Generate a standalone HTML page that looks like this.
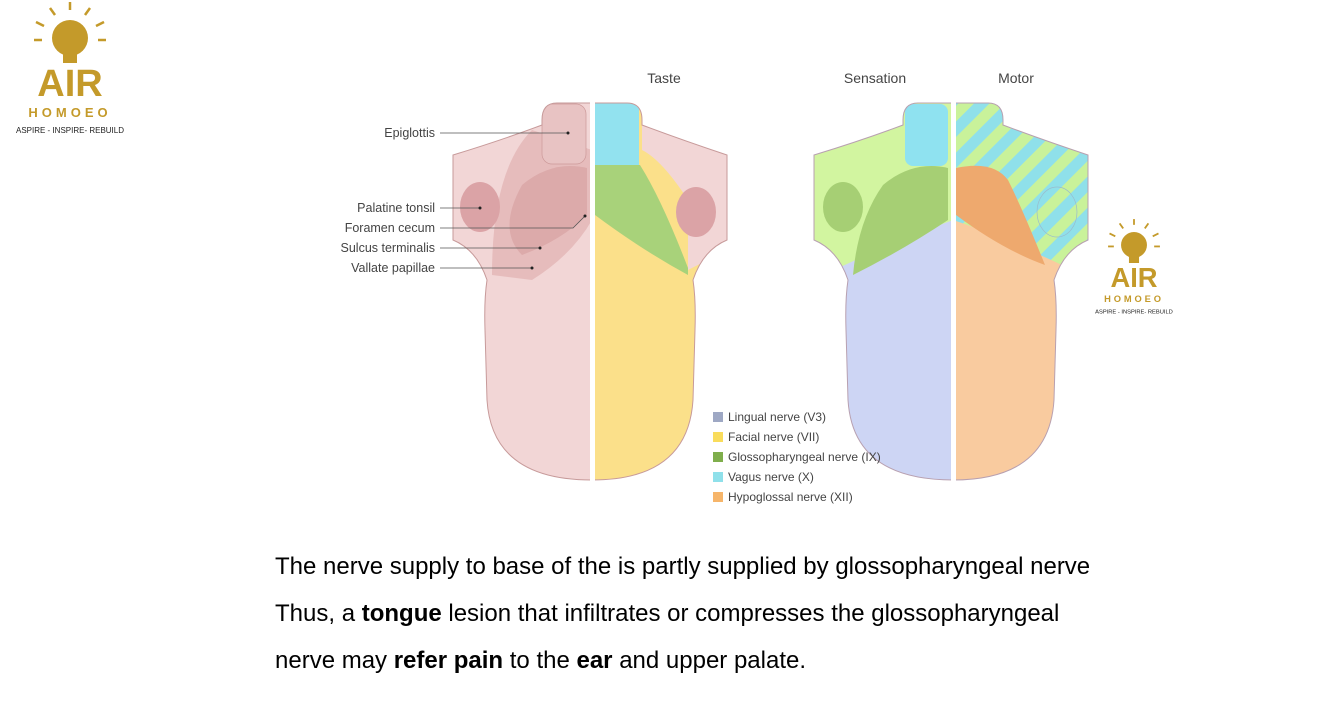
<!DOCTYPE html>
<html><head><meta charset="utf-8"><style>
body{margin:0;width:1325px;height:724px;background:#fff;overflow:hidden;font-family:"Liberation Sans",sans-serif;position:relative}
.t{position:absolute;left:275px;font-size:24px;color:#000;white-space:nowrap}
</style></head><body>
<svg width="1325" height="724" style="position:absolute;left:0;top:0">
<defs>
<path id="tg" d="M -35 103 L 35 103 Q 50 103 50 120 L 50 125 Q 90 140 135 155 L 135 240 Q 111 250 101 280 Q 104 300 103 330 L 101 400 Q 96 480 0 480 Q -100 480 -105 400 L -107 330 Q -108 300 -105 280 Q -115 250 -139 240 L -139 155 Q -90 140 -50 125 L -50 120 Q -50 103 -35 103 Z"/>
<clipPath id="cl"><use href="#tg"/></clipPath>
<pattern id="st" width="22" height="22" patternUnits="userSpaceOnUse" patternTransform="rotate(45)">
<rect width="22" height="22" fill="#c9f29a"/><rect width="11" height="22" fill="#8fe0ea"/></pattern>
<g id="logo">
<g stroke="#c49a2a" stroke-width="2.5">
<line x1="0" y1="-36" x2="0" y2="-28"/><line x1="-20" y1="-30" x2="-15" y2="-23"/><line x1="20" y1="-30" x2="15" y2="-23"/>
<line x1="-34" y1="-16" x2="-26" y2="-12"/><line x1="34" y1="-16" x2="26" y2="-12"/><line x1="-36" y1="2" x2="-28" y2="2"/><line x1="36" y1="2" x2="28" y2="2"/>
</g>
<circle cx="0" cy="0" r="18" fill="#c49a2a"/><rect x="-7" y="15" width="14" height="10" fill="#c49a2a"/>
<text x="0" y="58" text-anchor="middle" font-size="38" font-weight="bold" fill="#c49a2a">AIR</text>
<text x="0" y="79" text-anchor="middle" font-size="13" font-weight="bold" fill="#c49a2a" letter-spacing="4">HOMOEO</text>
<text x="0" y="95" text-anchor="middle" font-size="8" fill="#222">ASPIRE - INSPIRE- REBUILD</text>
</g>
</defs>
<use href="#logo" transform="translate(70,38)"/>
<use href="#logo" transform="translate(1134,245) scale(0.72)"/>

<!-- tongue 1 -->
<g transform="translate(592,0)">
<g clip-path="url(#cl)">
<rect x="-150" y="100" width="150" height="390" fill="#f2d6d6"/>
<path d="M -60 130 Q -100 170 -100 275 L -60 280 Q -20 255 0 220 L 0 150 Z" fill="#e6bcbc"/>
<path d="M -70 185 Q -40 160 -5 168 L -5 215 Q -30 240 -70 255 Q -95 230 -70 185 Z" fill="#dcaaaa"/>
<rect x="-50" y="104" width="44" height="60" rx="10" fill="#e8c3c3" stroke="#c99" stroke-width="0.7"/>
<ellipse cx="-112" cy="207" rx="20" ry="25" fill="#dba3a6"/>
<rect x="0" y="100" width="150" height="390" fill="#fbe08a"/>
<path d="M 3 165 L 48 165 Q 70 200 96 268 L 96 275 Q 50 250 3 215 Z" fill="#a8d27a"/>
<rect x="3" y="103" width="44" height="62" fill="#92e2ef"/>
<path d="M 96 200 L 135 200 L 135 250 L 96 270 Z" fill="#f2d6d6"/>
<path d="M 50 120 L 135 155 L 135 200 L 96 200 Q 70 160 50 150 Z" fill="#f2d6d6"/>
<ellipse cx="104" cy="212" rx="20" ry="25" fill="#dba3a6"/>
</g>
<use href="#tg" fill="none" stroke="#c79a9a" stroke-width="1"/>
<rect x="-2" y="100" width="5" height="385" fill="#fff"/>
</g>

<!-- tongue 2 -->
<g transform="translate(953,0)">
<g clip-path="url(#cl)">
<rect x="-150" y="100" width="150" height="390" fill="#d2f5a0"/>
<path d="M -150 285 Q -80 250 0 220 L 0 490 L -150 490 Z" fill="#cdd5f4"/>
<path d="M -70 185 Q -40 160 -5 168 L -5 220 Q -50 250 -100 275 Q -95 220 -70 185 Z" fill="#a6cf74"/>
<ellipse cx="-110" cy="207" rx="20" ry="25" fill="#a6cf74"/>
<rect x="-48" y="104" width="43" height="62" rx="8" fill="#8fe2f0"/>
<rect x="0" y="100" width="150" height="390" fill="url(#st)"/>
<path d="M 0 220 Q 60 240 150 285 L 150 490 L 0 490 Z" fill="#f9cb9f"/>
<path d="M 3 168 Q 40 160 55 180 Q 70 210 92 265 Q 50 250 3 215 Z" fill="#eea96e"/>
<ellipse cx="104" cy="212" rx="20" ry="25" fill="url(#st)" stroke="#9bc" stroke-width="0.7"/>
</g>
<use href="#tg" fill="none" stroke="#b8a0b0" stroke-width="1"/>
<rect x="-2" y="100" width="5" height="385" fill="#fff"/>
</g>

<g font-size="12.5" fill="#444">
<text x="664" y="83" text-anchor="middle" font-size="14">Taste</text>
<text x="875" y="83" text-anchor="middle" font-size="14">Sensation</text>
<text x="1016" y="83" text-anchor="middle" font-size="14">Motor</text>
<text x="435" y="137" text-anchor="end">Epiglottis</text>
<text x="435" y="212" text-anchor="end">Palatine tonsil</text>
<text x="435" y="232" text-anchor="end">Foramen cecum</text>
<text x="435" y="252" text-anchor="end">Sulcus terminalis</text>
<text x="435" y="272" text-anchor="end">Vallate papillae</text>
</g>
<g stroke="#555" stroke-width="0.8" fill="none">
<line x1="440" y1="133" x2="568" y2="133"/>
<line x1="440" y1="208" x2="480" y2="208"/>
<polyline points="440,228 573,228 585,216"/>
<line x1="440" y1="248" x2="540" y2="248"/>
<line x1="440" y1="268" x2="532" y2="268"/>
</g>
<g fill="#222"><circle cx="568" cy="133" r="1.5"/><circle cx="480" cy="208" r="1.5"/><circle cx="585" cy="216" r="1.5"/><circle cx="540" cy="248" r="1.5"/><circle cx="532" cy="268" r="1.5"/></g>

<rect x="713" y="412" width="10" height="10" fill="#9ea8c4"/>
<rect x="713" y="432" width="10" height="10" fill="#f9dc5c"/>
<rect x="713" y="452" width="10" height="10" fill="#7fae4c"/>
<rect x="713" y="472" width="10" height="10" fill="#8fe0ea"/>
<rect x="713" y="492" width="10" height="10" fill="#f6b56a"/>
<g font-size="12" fill="#444">
<text x="728" y="421">Lingual nerve (V3)</text>
<text x="728" y="441">Facial nerve (VII)</text>
<text x="728" y="461">Glossopharyngeal nerve (IX)</text>
<text x="728" y="481">Vagus nerve (X)</text>
<text x="728" y="501">Hypoglossal nerve (XII)</text>
</g>
</svg>
<div class="t" style="top:553px">The nerve supply to base of the is partly supplied by glossopharyngeal nerve</div>
<div class="t" style="top:600px">Thus, a <b>tongue</b> lesion that infiltrates or compresses the glossopharyngeal</div>
<div class="t" style="top:647px">nerve may <b>refer pain</b> to the <b>ear</b> and upper palate.</div>
</body></html>
